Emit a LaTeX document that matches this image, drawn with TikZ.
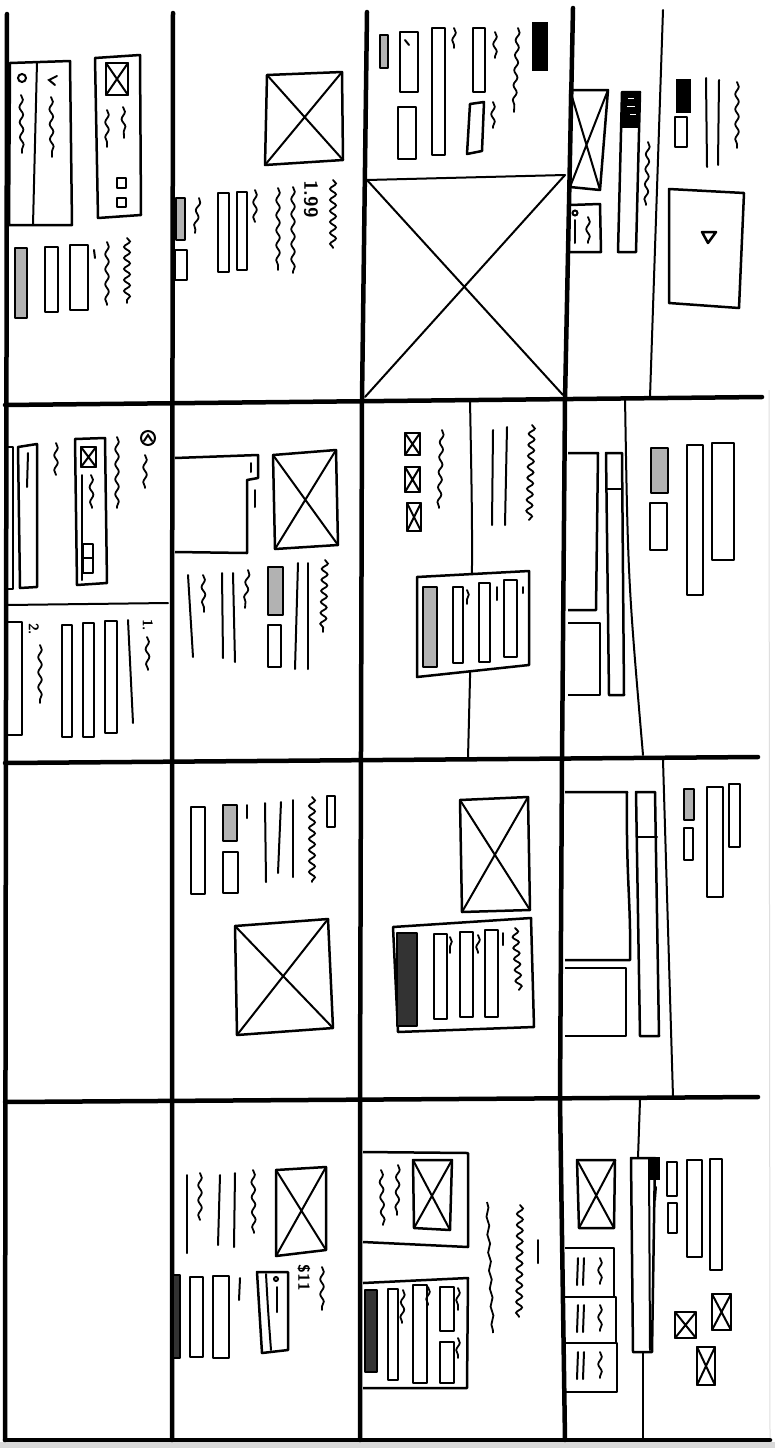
\documentclass[tikz,border=0pt]{standalone}
\usetikzlibrary{decorations.pathmorphing}
\newcommand\imgbox[4]{\draw[bx] (#1,#2) rectangle (#3,#4); \draw[xl] (#1,#2) -- (#3,#4) (#3,#2) -- (#1,#4);}
\newcommand\imgq[4]{\draw[bx] #1 -- #2 -- #3 -- #4 -- cycle; \draw[xl] #1 -- #3 #2 -- #4;}
\begin{document}
\begin{tikzpicture}[x=1pt,y=-1pt,
  gridl/.style={line width=4.5pt, line cap=round, line join=round},
  tl/.style={line width=2pt, line cap=round},
  bx/.style={draw, line width=2.5pt, line join=round},
  gbx/.style={bx, fill=gray!60},
  dbx/.style={bx, fill=gray!40!black},
  blk/.style={draw, fill=black, line width=1.5pt},
  xl/.style={line width=2pt, line cap=round},
  wv/.style={line width=1.8pt, line cap=round, decorate, decoration={snake, amplitude=1.8pt, segment length=15pt}},
  zg/.style={line width=1.8pt, line cap=round, decorate, decoration={snake, amplitude=3pt, segment length=11pt}},
  lbl/.style={inner sep=0pt, rotate=-90}]
\useasboundingbox (0,0) rectangle (775,1448);
\fill[white] (0,0) rectangle (775,1448);
\fill[gray!30] (0,1442) rectangle (775,1448);
\draw[gray!25, line width=1pt] (769,390) -- (770,1440);
% ---------- grid ----------
\draw[gridl] (7,14) -- (6,700) -- (5,1440);
\draw[gridl] (173,13) -- (172,700) -- (172,1440);
\draw[gridl] (367,12) -- (362,400) -- (360,1100) -- (360,1440);
\draw[gridl] (573,8) -- (565,400) -- (562,760) -- (560,1100) -- (565,1440);
\draw[gridl] (5,405) -- (762,397);
\draw[gridl] (5,763) -- (758,757);
\draw[gridl] (5,1102) -- (758,1097);
\draw[gridl] (5,1440) -- (770,1440);
% ================= ROW 1 =================
% cell 1
\draw[bx] (10,63) -- (70,61) -- (72,225) -- (9,225) -- cycle;
\draw[tl] (37,62) -- (33,225);
\draw[tl] (22,78) circle (4);
\draw[tl] (57,76) -- (49,80) -- (55,85);
\draw[wv] (21,95) -- (22,153);
\draw[wv] (51,97) -- (52,157);
\draw[bx] (95,58) -- (140,55) -- (141,215) -- (98,218) -- cycle;
\imgbox{106}{63}{128}{95}
\draw[wv] (107,110) -- (107,147);
\draw[wv] (123,107) -- (124,138);
\draw[bx] (117,178) rectangle (126,188);
\draw[bx] (117,198) rectangle (126,207);
\draw[gbx] (15,248) rectangle (27,318);
\draw[bx] (45,247) rectangle (58,312);
\draw[bx] (70,245) rectangle (88,310);
\draw[tl] (94,250) -- (95,258);
\draw[wv] (107,242) -- (107,305);
\draw[zg] (127,238) -- (127,303);
% cell 2
\imgq{(267,75)}{(342,72)}{(343,160)}{(265,165)}
\draw[gbx] (176,198) rectangle (185,240);
\draw[bx] (175,250) rectangle (187,280);
\draw[wv] (199,198) -- (195,233);
\draw[bx] (218,193) rectangle (229,272);
\draw[bx] (237,192) rectangle (247,270);
\draw[wv] (255,190) -- (255,222);
\draw[wv] (278,188) -- (278,270);
\draw[wv] (293,187) -- (293,273);
\node[lbl, font=\fontsize{19}{19}\selectfont\sffamily\bfseries] (p199) at (311,199) {1.99};
\draw[zg] (333,180) -- (333,248);
% cell 3
\draw[gbx] (380,35) rectangle (388,68);
\draw[bx] (400,32) rectangle (418,92);
\draw[tl] (405,40) -- (409,45);
\draw[bx] (432,28) rectangle (445,155);
\draw[wv] (454,28) -- (454,48);
\draw[bx] (473,28) rectangle (485,92);
\draw[wv] (495,32) -- (495,58);
\draw[wv] (518,28) -- (514,112);
\draw[blk] (533,23) rectangle (547,70);
\draw[bx] (398,107) rectangle (416,159);
\draw[bx] (470,104) -- (484,102) -- (482,151) -- (467,154) -- cycle;
\draw[wv] (493,102) -- (493,128);
\draw[xl] (367,180) -- (565,175);
\draw[xl] (367,180) -- (563,395) (565,175) -- (365,397);
% cell 4
\draw[tl] (663,10) -- (650,397);
\imgq{(570,90)}{(608,90)}{(600,190)}{(570,187)}
\draw[bx] (570,205) -- (600,204) -- (601,252) -- (570,252);
\draw[tl] (575,213) circle (2.5);
\draw[tl] (575,220) -- (575,243);
\draw[wv] (588,217) -- (588,243);
\draw[bx] (622,92) -- (640,92) -- (636,252) -- (618,252) -- cycle;
\fill[black] (622,93) rectangle (640,128);
\draw[white, line width=1pt] (628,98) -- (634,98) (627,106) -- (635,106) (630,114) -- (636,114);
\draw[wv] (648,142) -- (646,205);
\draw[blk] (677,80) rectangle (690,112);
\draw[bx] (675,117) rectangle (687,147);
\draw[tl] (706,78) -- (707,167);
\draw[tl] (719,80) -- (718,165);
\draw[wv] (737,82) -- (737,148);
\draw[bx] (669,189) -- (744,193) -- (739,308) -- (669,303) -- cycle;
\draw[bx] (702,232) -- (716,232) -- (708,243) -- cycle;
% ================= ROW 2 =================
% cell 1
\draw[tl] (7,605) -- (168,603);
\draw[bx] (7,447) -- (13,447) -- (13,589) -- (7,589);
\draw[bx] (18,447) -- (37,444) -- (37,587) -- (20,588) -- cycle;
\draw[tl] (28,453) -- (27,487);
\draw[wv] (56,443) -- (56,475);
\draw[bx] (75,439) -- (105,438) -- (107,583) -- (77,585) -- cycle;
\draw[tl] (82,475) -- (82,580);
\draw[bx] (81,447) rectangle (96,467);
\draw[xl] (81,447) -- (96,467) (96,447) -- (81,467);
\draw[wv] (91,475) -- (92,508);
\draw[bx] (83,544) rectangle (93,573);
\draw[tl] (83,558) -- (93,558);
\draw[wv] (117,437) -- (117,508);
\draw[tl] (148,438) circle (7);
\draw[tl] (144,441) -- (148,435) -- (152,441);
\draw[wv] (145,455) -- (145,488);
\draw[bx] (7,622) -- (22,622) -- (22,735) -- (7,735);
\node[lbl, font=\fontsize{14}{14}\selectfont\sffamily\bfseries] (n2) at (34,629) {2.};
\draw[wv] (40,645) -- (40,703);
\draw[bx] (62,625) rectangle (72,737);
\draw[bx] (83,623) rectangle (94,737);
\draw[bx] (105,621) rectangle (117,733);
\draw[tl] (128,620) -- (133,723);
\node[lbl, font=\fontsize{14}{14}\selectfont\sffamily\bfseries] (n1) at (148,625) {1.};
\draw[wv] (147,637) -- (148,670);
% cell 2
\draw[bx] (175,458) -- (258,455) -- (258,478) -- (247,480) -- (247,553) -- (175,552);
\draw[tl] (251,463) -- (251,472);
\draw[tl] (255,490) -- (255,507);
\imgq{(273,455)}{(336,450)}{(338,545)}{(275,549)}
\draw[tl] (188,575) -- (193,657);
\draw[wv] (203,575) -- (204,612);
\draw[tl] (222,573) -- (223,658);
\draw[tl] (233,573) -- (235,662);
\draw[wv] (248,570) -- (245,608);
\draw[gbx] (268,567) rectangle (283,615);
\draw[bx] (268,625) rectangle (281,667);
\draw[tl] (298,563) -- (295,669);
\draw[tl] (308,563) -- (308,669);
\draw[zg] (325,560) -- (323,632);
% cell 3
\draw[tl] (470,400) .. controls (473,560) .. (468,758);
\imgbox{405}{433}{420}{455}
\imgbox{405}{467}{420}{492}
\imgbox{407}{503}{421}{531}
\draw[wv] (442,430) -- (439,508);
\draw[tl] (493,430) -- (492,525);
\draw[tl] (507,427) -- (505,525);
\draw[zg] (532,425) -- (529,520);
\draw[bx, fill=white] (417,577) -- (529,571) -- (529,665) -- (417,677) -- cycle;
\draw[gbx] (423,587) rectangle (437,667);
\draw[bx] (453,587) rectangle (463,663);
\draw[wv] (467,590) -- (467,604);
\draw[bx] (479,583) rectangle (490,662);
\draw[tl] (497,587) -- (497,600);
\draw[bx] (504,580) rectangle (517,657);
\draw[tl] (523,587) -- (523,593);
% cell 4
\draw[tl] (625,397) .. controls (628,580) .. (643,755);
\draw[bx] (568,453) -- (598,453) -- (596,610) -- (568,610);
\draw[bx] (568,623) -- (600,623) -- (600,695) -- (568,695);
\draw[bx] (606,453) -- (622,453) -- (624,695) -- (609,695) -- cycle;
\draw[tl] (606,489) -- (622,489);
\draw[gbx] (651,448) rectangle (668,493);
\draw[bx] (650,503) rectangle (667,550);
\draw[bx] (687,445) rectangle (703,595);
\draw[bx] (712,443) rectangle (734,560);
% ================= ROW 3 =================
% cell 2
\draw[bx] (191,807) rectangle (205,894);
\draw[gbx] (223,805) rectangle (237,841);
\draw[bx] (223,852) rectangle (238,893);
\draw[tl] (247,805) -- (247,818);
\draw[tl] (265,803) -- (266,882);
\draw[tl] (281,802) -- (278,873);
\draw[tl] (293,800) -- (293,877);
\draw[zg] (312,797) -- (312,882);
\draw[bx] (327,796) rectangle (335,827);
\imgq{(235,926)}{(328,919)}{(333,1028)}{(237,1035)}
% cell 3
\imgq{(460,800)}{(528,797)}{(530,910)}{(462,912)}
\draw[bx] (393,927) -- (531,918) -- (534,1027) -- (398,1032) -- cycle;
\draw[dbx] (397,933) rectangle (417,1026);
\draw[bx] (434,934) rectangle (447,1019);
\draw[wv] (450,937) -- (450,953);
\draw[bx] (460,932) rectangle (473,1017);
\draw[wv] (478,935) -- (478,953);
\draw[bx] (485,930) rectangle (498,1017);
\draw[tl] (503,933) -- (503,945);
\draw[zg] (515,928) -- (519,990);
% cell 4
\draw[tl] (663,760) -- (673,1097);
\draw[bx] (565,792) -- (627,792) .. controls (626,880) and (631,900) .. (630,960) -- (565,960);
\draw[bx] (565,968) -- (626,968) -- (626,1036) -- (565,1036);
\draw[bx] (636,792) -- (655,792) -- (659,1036) -- (640,1036) -- cycle;
\draw[tl] (637,837) -- (657,837);
\draw[gbx] (684,789) rectangle (694,820);
\draw[bx] (684,828) rectangle (693,860);
\draw[bx] (707,787) rectangle (723,897);
\draw[bx] (729,784) rectangle (740,847);
% ================= ROW 4 =================
% cell 2
\draw[tl] (187,1175) -- (187,1253);
\draw[wv] (200,1173) -- (200,1220);
\draw[tl] (220,1175) -- (218,1245);
\draw[tl] (235,1173) -- (234,1247);
\draw[wv] (253,1170) -- (254,1233);
\imgq{(276,1170)}{(326,1167)}{(326,1250)}{(276,1256)}
\draw[dbx] (173,1275) rectangle (180,1358);
\draw[bx] (190,1277) rectangle (203,1357);
\draw[bx] (213,1276) rectangle (229,1358);
\draw[tl] (240,1278) -- (239,1300);
\draw[bx] (257,1272) -- (288,1272) -- (288,1350) -- (262,1353) -- cycle;
\draw[tl] (266,1274) .. controls (268,1310) .. (271,1350);
\draw[tl] (276,1279) circle (2);
\draw[tl] (277,1287) -- (277,1312);
\node[lbl, font=\fontsize{16}{16}\selectfont\sffamily\bfseries] (p11) at (304,1278) {\$11};
\draw[wv] (322,1267) -- (322,1310);
% cell 3
\draw[bx] (363,1152) -- (468,1153) -- (468,1247) -- (363,1242);
\draw[wv] (381,1170) -- (383,1225);
\draw[wv] (398,1165) -- (397,1215);
\imgq{(413,1160)}{(452,1160)}{(450,1230)}{(414,1228)}
\draw[line width=1.8pt, decorate, decoration={snake, amplitude=1.2pt, segment length=18pt}] (487,1202) -- (493,1333);
\draw[zg] (520,1205) -- (519,1317);
\draw[tl] (538,1240) -- (538,1263);
\draw[bx] (363,1283) -- (468,1278) -- (467,1388) -- (363,1388);
\draw[dbx] (365,1290) rectangle (377,1372);
\draw[bx] (388,1289) rectangle (398,1380);
\draw[wv] (403,1290) -- (402,1323);
\draw[bx] (413,1285) rectangle (427,1383);
\draw[wv] (428,1287) -- (428,1305);
\draw[bx] (440,1287) rectangle (454,1331);
\draw[bx] (440,1342) rectangle (454,1383);
\draw[wv] (458,1288) -- (458,1310);
\draw[wv] (458,1338) -- (458,1358);
% cell 4
\draw[tl] (640,1100) -- (638,1158);
\draw[tl] (643,1352) -- (643,1440);
\draw[bx] (631,1158) -- (655,1158) -- (652,1352) -- (633,1352) -- cycle;
\draw[tl] (649,1160) -- (650,1350);
\draw[blk] (649,1158) rectangle (659,1179);
\draw[tl] (656,1187) -- (655,1200);
\imgq{(577,1160)}{(615,1160)}{(614,1228)}{(579,1228)}
\draw[bx] (565,1248) -- (614,1248) -- (614,1297) -- (565,1297);
\draw[bx] (565,1297) -- (616,1297) -- (616,1343) -- (565,1343);
\draw[bx] (565,1343) -- (617,1343) -- (617,1392) -- (565,1392);
\foreach \t in {1258,1305,1352}{
  \draw[tl] (578,\t) -- (577,\t+27);
  \draw[tl] (584,\t) -- (583,\t+27);
  \draw[wv] (600,\t) -- (600,\t+26);
}
\draw[bx] (667,1162) rectangle (677,1196);
\draw[bx] (668,1203) rectangle (677,1233);
\draw[bx] (687,1160) rectangle (702,1257);
\draw[bx] (710,1159) rectangle (722,1270);
\imgbox{675}{1312}{696}{1338}
\imgbox{712}{1294}{731}{1330}
\imgbox{697}{1347}{715}{1385}
\end{tikzpicture}
\end{document}
